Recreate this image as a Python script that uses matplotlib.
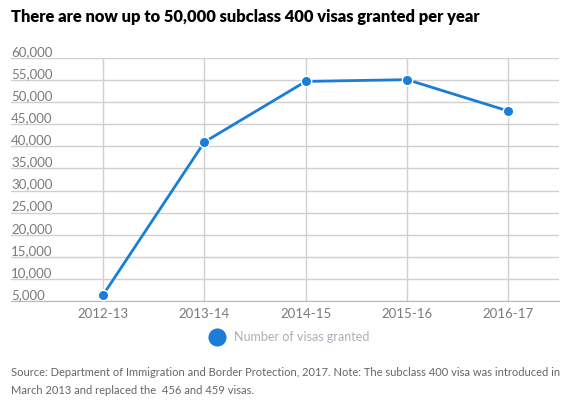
import numpy as np
import matplotlib.pyplot as plt

# DATA
years = ['2012-13', '2013-14', '2014-15', '2015-16', '2016-17']
visas = [6400, 41000, 54700, 55100, 48000]
y_ticks = list(range(5000, 60001, 5000))

BLUE = '#1a7dd7'
GRID = '#d0d0d0'
TICK = '#7a7a7a'

W, H = 567, 401
fig = plt.figure(figsize=(W/100, H/100), dpi=100)
plt.rcParams['font.family'] = ['Lato', 'DejaVu Sans']

# plot area in pixels: x 11..559, y 58..301
left, right, top, bottom = 11, 559, 58, 301
ax = fig.add_axes([left/W, 1 - bottom/H, (right-left)/W, (bottom-top)/H])

x = np.arange(len(years))
ax.plot(x, visas, color=BLUE, lw=2, marker='o', ms=7.5, mec='white', mew=1, zorder=3, clip_on=False)

ax.set_xlim(-0.91, 4.5)
ax.set_ylim(5000, 60000)
ax.set_yticks(y_ticks)
ax.set_xticks(x)
ax.grid(True, color=GRID, lw=1)
ax.tick_params(axis='y', length=0, labelleft=False)
ax.tick_params(axis='x', length=0, pad=5, labelsize=9.5, labelcolor=TICK)
ax.set_xticklabels(years)
for s in ['top', 'right', 'left']:
    ax.spines[s].set_visible(False)
ax.spines['bottom'].set_color('#b8b8b8')

for v in y_ticks:
    ax.text(-0.91, v, f'{v:,}', fontsize=9.5, color=TICK, ha='left', va='bottom')

fig.text(11/W, 1 - 17/H, 'There are now up to 50,000 subclass 400 visas granted per year',
         fontsize=11.9, fontweight='heavy', color='black', ha='left', va='center')

# legend
fig.add_artist(plt.Line2D([216.7/W], [1 - 336.7/H], marker='o', ms=12, color=BLUE, lw=0))
fig.text(234/W, 1 - 337/H, 'Number of visas granted', fontsize=9, color='#a8b0b8',
         ha='left', va='center')

fig.text(11/W, 1 - 373/H,
         'Source: Department of Immigration and Border Protection, 2017. Note: The subclass 400 visa was introduced in',
         fontsize=8.0, color='#666666', ha='left', va='center')
fig.text(11/W, 1 - 390/H, 'March 2013 and replaced the  456 and 459 visas.',
         fontsize=8.0, color='#666666', ha='left', va='center')

fig.savefig('out.png', dpi=100)
